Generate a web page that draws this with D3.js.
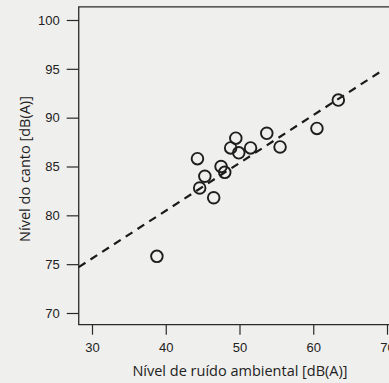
<!DOCTYPE html>
<html>
<head>
<meta charset="utf-8">
<script src="https://cdn.jsdelivr.net/npm/d3@7"></script>
<style>
  html, body { margin: 0; padding: 0; background: #efefed; }
  svg { display: block; font-family: "Open Sans", "DejaVu Sans", sans-serif; }
</style>
</head>
<body>
<div id="chart"></div>
<script>
// ruído ambiental vs. nível do canto, dB(A)
const noiseLevel = [38.8, 44.3, 44.6, 45.3, 46.5, 47.5, 48.0, 48.8, 49.5, 49.9, 51.5, 53.7, 55.5, 60.5, 63.4];
const songLevel  = [75.8, 85.8, 82.8, 84.0, 81.8, 85.0, 84.4, 86.9, 87.9, 86.4, 86.9, 88.4, 87.0, 88.9, 91.8];

// regression line end points
const fitX = [28.2, 69.3];
const fitY = [74.7, 94.8];

const xTicks = [30, 40, 50, 60, 70];
const yTicks = [70, 75, 80, 85, 90, 95, 100];

const width = 389;
const height = 383;

const x = d3.scaleLinear().domain([30, 70]).range([92, 387]);
const y = d3.scaleLinear().domain([70, 100]).range([313, 20]);

const svg = d3.select('#chart')
  .append('svg')
  .attr('width', width)
  .attr('height', height);

const frameLeft = x(28.2);
const frameBottom = y(68.8);
const frameTop = y(101.35);

// frame: top, left and bottom lines (right side runs off the page)
svg.append('path')
  .attr('d', `M${width + 5},${frameTop}H${frameLeft}V${frameBottom}H${width + 5}`)
  .attr('fill', 'none')
  .attr('stroke', '#2a2a2a')
  .attr('stroke-width', 1.3);

// y axis
const yAxis = svg.append('g')
  .attr('transform', `translate(${frameLeft - 12},0)`)
  .call(d3.axisLeft(y).tickValues(yTicks).tickSize(0).tickPadding(0).tickFormat(d3.format('d')));
yAxis.select('.domain').remove();
yAxis.selectAll('.tick line')
  .attr('x2', 12)
  .attr('stroke', '#2a2a2a')
  .attr('stroke-width', 1.2);
yAxis.selectAll('.tick text')
  .attr('x', -7)
  .attr('fill', '#222')
  .style('font-size', '13px');

// x axis
const xAxis = svg.append('g')
  .attr('transform', `translate(0,${frameBottom})`)
  .call(d3.axisBottom(x).tickValues(xTicks).tickSize(10).tickPadding(8).tickFormat(d3.format('d')));
xAxis.select('.domain').remove();
xAxis.selectAll('.tick line')
  .attr('stroke', '#2a2a2a')
  .attr('stroke-width', 1.2);
xAxis.selectAll('.tick text')
  .attr('fill', '#222')
  .style('font-size', '13px');

// axis titles
svg.append('text')
  .attr('x', 240)
  .attr('y', 376)
  .attr('text-anchor', 'middle')
  .attr('fill', '#222')
  .style('font-size', '14.5px')
  .text('Nível de ruído ambiental [dB(A)]');

svg.append('text')
  .attr('transform', `translate(30,${169}) rotate(-90)`)
  .attr('text-anchor', 'middle')
  .attr('fill', '#222')
  .style('font-size', '14.5px')
  .text('Nível do canto [dB(A)]');

// dashed regression line
const line = d3.line()
  .x(d => x(d[0]))
  .y(d => y(d[1]));

svg.append('path')
  .datum(d3.zip(fitX, fitY))
  .attr('d', line)
  .attr('fill', 'none')
  .attr('stroke', '#1a1a1a')
  .attr('stroke-width', 2.2)
  .attr('stroke-dasharray', '8,6');

// points
svg.append('g')
  .selectAll('circle')
  .data(d3.zip(noiseLevel, songLevel))
  .enter()
  .append('circle')
  .attr('cx', d => x(d[0]))
  .attr('cy', d => y(d[1]))
  .attr('r', 5.8)
  .attr('fill', 'none')
  .attr('stroke', '#1e1e1e')
  .attr('stroke-width', 1.9);
</script>
</body>
</html>
